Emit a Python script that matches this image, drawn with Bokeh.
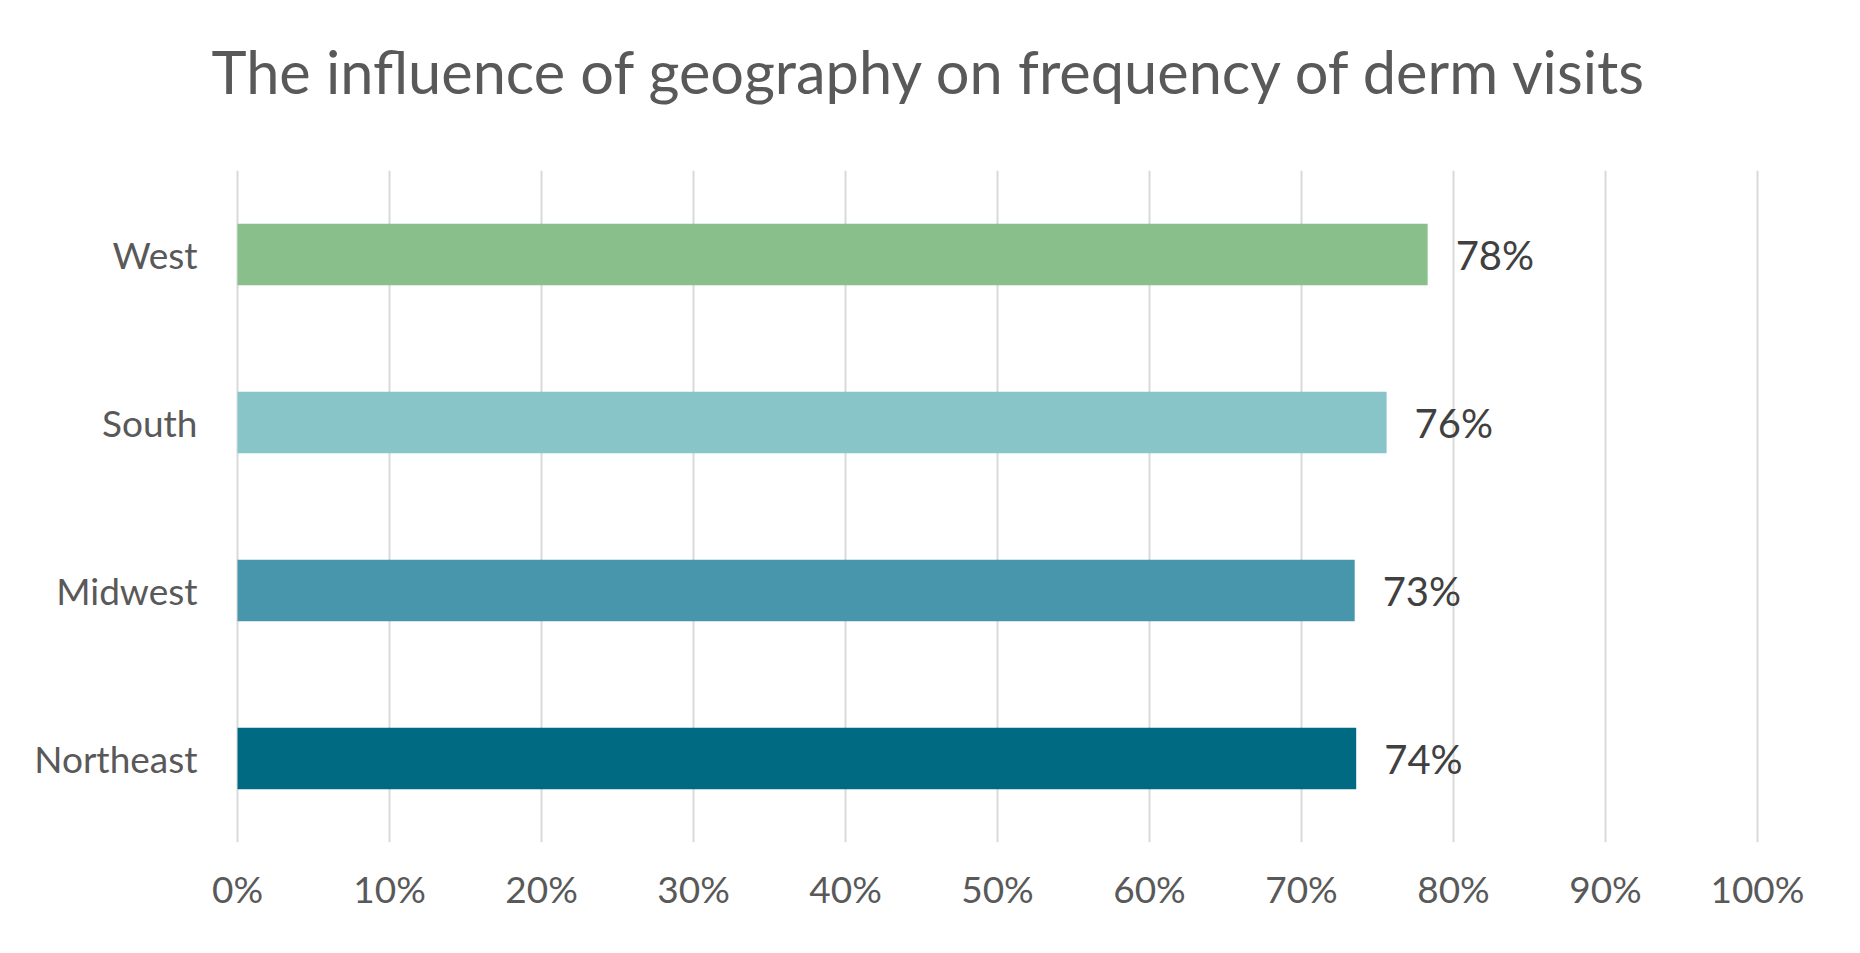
from bokeh.plotting import figure
from bokeh.models import (ColumnDataSource, FactorRange, Range1d, FixedTicker,
                          LabelSet, Title)
from bokeh.core.properties import value
from bokeh.embed import file_html
from bokeh.resources import INLINE

# ---- data ----
regions = ["Northeast", "Midwest", "South", "West"]          # bottom -> top
values = [0.736, 0.735, 0.756, 0.783]
value_labels = ["74%", "73%", "76%", "78%"]
colors = ["#006A83", "#4896AC", "#87C5C9", "#88BF8A"]
x_ticks = [0.0, 0.1, 0.2, 0.3, 0.4, 0.5, 0.6, 0.7, 0.8, 0.9, 1.0]
x_tick_labels = ["0%", "10%", "20%", "30%", "40%", "50%", "60%", "70%", "80%", "90%", "100%"]
title_text = "The influence of geography on frequency of derm visits"

FONT = "Lato"
GREY = "#595959"

source = ColumnDataSource(dict(region=regions, value=values,
                               label=value_labels, color=colors))

p = figure(y_range=FactorRange(*regions), x_range=Range1d(-0.002, 1.002),
           frame_width=1526, frame_height=672,
           min_border_left=234, min_border_right=84,
           min_border_top=170, min_border_bottom=95,
           output_backend="svg", toolbar_location=None)

# trailing empty line keeps space between the title and the plot area
title = Title(text=title_text + "\n", align="left", offset=-23, standoff=0,
              vertical_align="top", text_font=FONT, text_font_size="59.5px",
              text_line_height=0.86,
              text_color=GREY, text_font_style="normal")
p.add_layout(title, "above")

p.hbar(y="region", right="value", left=0, height=0.365, color="color",
       line_color=None, source=source)

labels = LabelSet(x="value", y="region", text="label", source=source,
                  x_offset=28, text_baseline="middle", text_align="left",
                  text_font=value(FONT), text_font_size="40px",
                  text_color="#404040")
p.add_layout(labels)

p.outline_line_color = None

# x axis
p.xaxis.ticker = FixedTicker(ticks=x_ticks)
p.xaxis.major_label_overrides = {tk: lb for tk, lb in zip(x_ticks, x_tick_labels)}
p.xaxis.axis_line_color = None
p.xaxis.major_tick_line_color = None
p.xaxis.minor_tick_line_color = None
p.xaxis.major_label_standoff = 17
p.xaxis.major_label_text_font = FONT
p.xaxis.major_label_text_font_size = "37px"
p.xaxis.major_label_text_color = GREY

# y axis
p.yaxis.axis_line_color = None
p.yaxis.major_tick_line_color = None
p.yaxis.minor_tick_line_color = None
p.yaxis.major_label_standoff = 31
p.yaxis.major_label_text_font = FONT
p.yaxis.major_label_text_font_size = "37px"
p.yaxis.major_label_text_color = GREY

# grid
p.xgrid.ticker = FixedTicker(ticks=x_ticks)
p.xgrid.grid_line_color = "#D9D9D9"
p.xgrid.grid_line_width = 2
p.ygrid.grid_line_color = None

open("out.html", "w").write(file_html(p, INLINE))
